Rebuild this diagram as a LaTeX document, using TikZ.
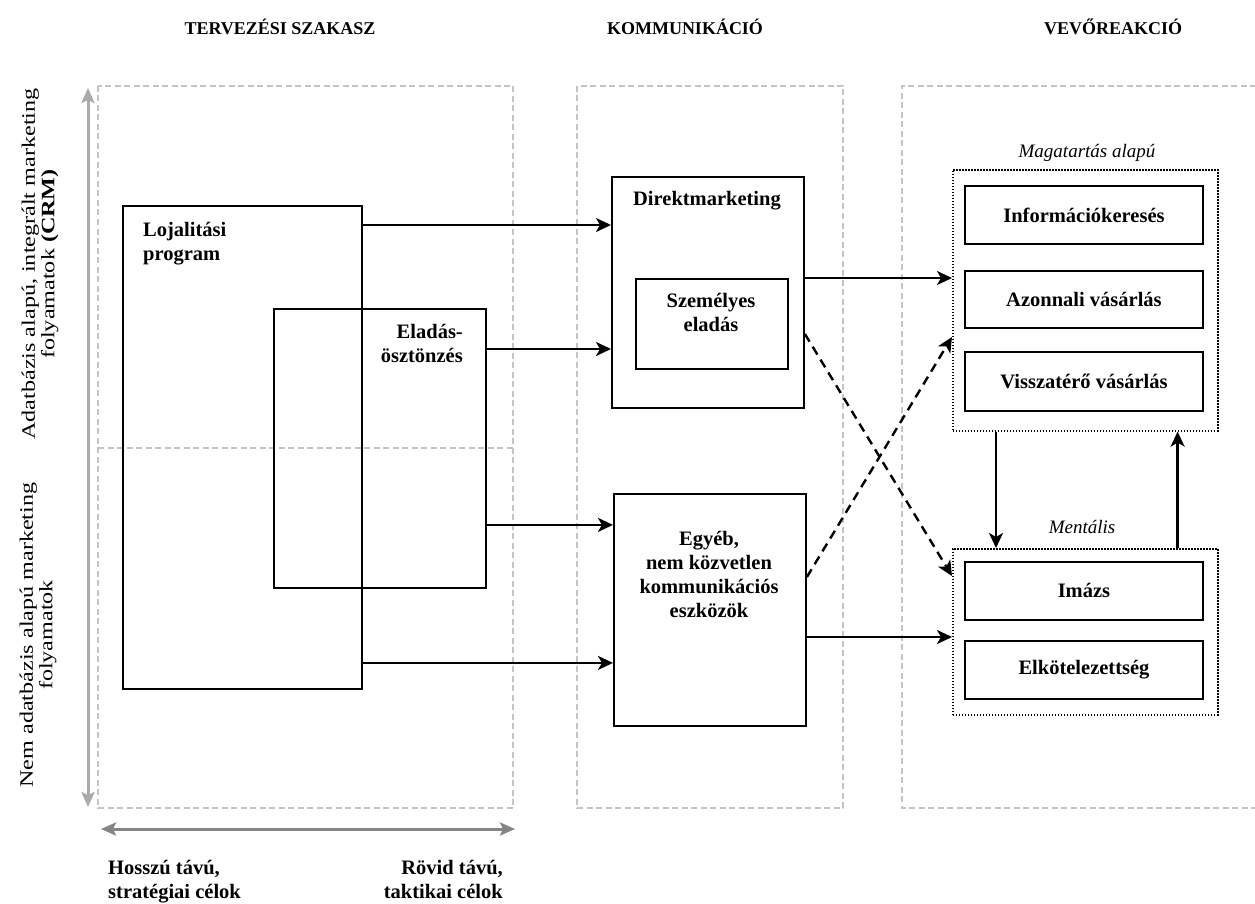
\documentclass[tikz,border=0pt]{standalone}
\usepackage{fontspec}
\setmainfont{Liberation Serif}
\newfontfamily\vertfont[FakeStretch=1.27]{Liberation Serif}
\usetikzlibrary{arrows.meta,calc}
\definecolor{panelgray}{HTML}{C4C4C4}
\definecolor{axislight}{HTML}{ABABAB}
\definecolor{axisdark}{HTML}{858585}
\tikzset{
  panel/.style={draw=panelgray, line width=1.3pt, dash pattern=on 6pt off 3.5pt},
  box/.style={draw, line width=1.9pt, inner sep=0pt, anchor=north west, font=\fontsize{20.5}{24}\selectfont\bfseries},
  grp/.style={draw, line width=1.6pt, dash pattern=on 1.6pt off 1.4pt, inner sep=0pt, anchor=north west},
  arr/.style={line width=2.4pt, -{Stealth[length=15pt,width=14pt,inset=4pt]}},
  darr/.style={arr, dash pattern=on 9pt off 6pt},
  axis/.style={line width=3pt, {Stealth[length=15pt,width=13pt,inset=3pt]}-{Stealth[length=15pt,width=13pt,inset=3pt]}},
  head/.style={font=\fontsize{18}{20}\selectfont\bfseries, inner sep=0pt},
  lbl/.style={font=\fontsize{20.5}{24}\selectfont\bfseries, inner sep=0pt},
  ital/.style={font=\fontsize{19}{22}\selectfont\itshape, inner sep=0pt},
  vtxt/.style={font=\vertfont\fontsize{19}{19.5}\selectfont, inner sep=0pt, rotate=90, align=center}
}
\begin{document}
\begin{tikzpicture}[x=1pt,y=-1pt]
\useasboundingbox (0,0) rectangle (1255,904);

% headers
\node[head] (h1) at (280,27) {TERVEZÉSI SZAKASZ};
\node[head] (h2) at (685,27) {KOMMUNIKÁCIÓ};
\node[head] (h3) at (1113,27) {VEVŐREAKCIÓ};

% panels
\draw[panel] (98,86) rectangle (513,808);
\draw[panel] (98,448) -- (513,448);
\draw[panel] (577,86) rectangle (843,808);
\draw[panel] (1256,86) -- (902,86) -- (902,808) -- (1256,808);

% axes
\coordinate (vt) at (88,88);
\coordinate (vb) at (88,807);
\draw[axis, draw=axislight, color=axislight] (vb) -- (vt);
\coordinate (hl) at (101,829);
\coordinate (hr) at (515,829);
\draw[axis, draw=axisdark, color=axisdark] (hl) -- (hr);

% vertical labels
\node[vtxt] (crm) at (40,264) {Adatbázis alapú, integrált marketing\\folyamatok \textbf{(CRM)}};
\node[vtxt] (nocrm) at (38,635) {Nem adatbázis alapú marketing\\folyamatok};

% bottom labels (base = last line)
\node[lbl, align=left, anchor=base west] (long) at (108,898) {Hosszú távú,\\stratégiai célok};
\node[lbl, align=right, anchor=base east] (short) at (503,898) {Rövid távú,\\taktikai célok};

% planning boxes
\node[box, minimum width=239pt, minimum height=483pt] (loj) at (122,205) {};
\node[box, minimum width=212pt, minimum height=279pt] (ela) at (273,308) {};
\node[lbl, align=left, anchor=base west] (lojt) at (143,260) {Lojalitási\\program};
\node[lbl, align=right, anchor=base east] (elat) at (463,362) {Eladás-\\ösztönzés};

% communication boxes
\node[box, minimum width=192pt, minimum height=231pt] (dir) at (611,176) {};
\node[lbl, anchor=base] (dirt) at (707,205) {Direktmarketing};
\node[box, minimum width=152pt, minimum height=90pt] (szem) at (635,278) {};
\node[lbl, align=center, anchor=base] (szemt) at (711,331) {Személyes\\eladás};
\node[box, minimum width=192pt, minimum height=232pt] (egy) at (613,493) {};
\node[lbl, align=center, anchor=base] (egyt) at (709,617) {Egyéb,\\nem közvetlen\\kommunikációs\\eszközök};

% reaction groups
\node[grp, minimum width=265pt, minimum height=261pt] (mag) at (952,169) {};
\node[ital, anchor=base] (magt) at (1087,158) {Magatartás alapú};
\node[box, minimum width=238pt, minimum height=58pt] (info) at (964,185) {Információkeresés};
\node[box, minimum width=238pt, minimum height=57pt] (azon) at (964,270) {Azonnali vásárlás};
\node[box, minimum width=238pt, minimum height=59pt] (vissz) at (964,351) {Visszatérő vásárlás};

\node[grp, minimum width=265pt, minimum height=166pt] (ment) at (952,548) {};
\node[ital, anchor=base] (mentt) at (1082,533) {Mentális};
\node[box, minimum width=238pt, minimum height=58pt] (imazs) at (964,561) {Imázs};
\node[box, minimum width=238pt, minimum height=58pt] (elk) at (964,640) {Elkötelezettség};

% arrows planning -> communication
\coordinate (a1) at ([yshift=-20pt]loj.north east);
\draw[arr] (a1) -- (a1 -| dir.west);
\coordinate (a2) at ([yshift=-41pt]ela.north east);
\draw[arr] (a2) -- (a2 -| dir.west);
\coordinate (a3) at ([yshift=64pt]ela.south east);
\draw[arr] (a3) -- (a3 -| egy.west);
\coordinate (a4) at ([yshift=27pt]loj.south east);
\draw[arr] (a4) -- (a4 -| egy.west);

% communication -> reactions
\coordinate (b1) at ([yshift=-102pt]dir.north east);
\draw[arr] (b1) -- (b1 -| mag.west);
\coordinate (b2) at ([yshift=-144pt]egy.north east);
\draw[arr] (b2) -- (b2 -| ment.west);
\coordinate (c1) at ([yshift=-158pt]dir.north east);
\coordinate (c1e) at ([yshift=-28pt]ment.north west);
\draw[darr] (c1) -- (c1e);
\coordinate (c2) at ([yshift=-84pt]egy.north east);
\coordinate (c2e) at ([yshift=-168pt]mag.north west);
\draw[darr] (c2) -- (c2e);

% between groups
\coordinate (d1) at ([xshift=44pt]mag.south west);
\draw[arr] (d1) -- (d1 |- ment.north);
\coordinate (d2) at ([xshift=-41pt]ment.north east);
\draw[arr] (d2) -- (d2 |- mag.south);
\end{tikzpicture}
\end{document}
